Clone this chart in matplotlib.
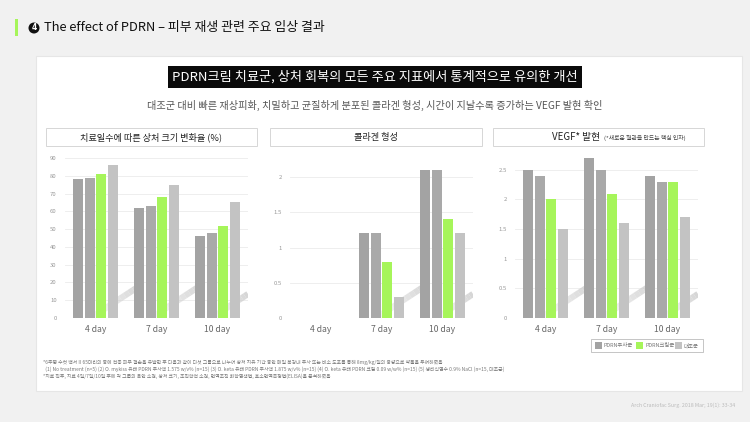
import matplotlib
matplotlib.use("Agg")
import matplotlib.pyplot as plt
from matplotlib.patches import Rectangle, Ellipse
import numpy as np

plt.rcParams['font.family'] = ['Noto Sans CJK KR', 'DejaVu Sans']

W, H = 750, 422

# ---------------- data ----------------
days = ["4 day", "7 day", "10 day"]
legend_names = ["PDRN주사군", "PDRN크림군", "대조군"]

wound_a = [78, 62, 46]
wound_b = [79, 63, 48]
wound_cream = [81, 68, 52]
wound_ctrl = [86, 75, 65]

coll_a = [0, 1.2, 2.1]
coll_b = [0, 1.2, 2.1]
coll_cream = [0, 0.8, 1.4]
coll_ctrl = [0, 0.3, 1.2]

vegf_a = [2.5, 2.7, 2.4]
vegf_b = [2.4, 2.5, 2.3]
vegf_cream = [2.0, 2.1, 2.3]
vegf_ctrl = [1.5, 1.6, 1.7]

wound_ticks = [0, 10, 20, 30, 40, 50, 60, 70, 80, 90]
coll_ticks = [0, 0.5, 1, 1.5, 2]
vegf_ticks = [0, 0.5, 1, 1.5, 2, 2.5]

panel_titles = ["치료일수에 따른 상처 크기 변화율 (%)", "콜라겐 형성", "VEGF* 발현"]

colors = ["#a3a3a3", "#a9a9a9", "#a6f55a", "#c3c3c3"]
legend_colors = ["#a3a3a3", "#a6f55a", "#c3c3c3"]

fig = plt.figure(figsize=(W / 100, H / 100), dpi=100)
fig.patch.set_facecolor("#f1f1f1")


def fx(x):
    return x / W


def fy(y):
    return 1 - y / H


# white card
fig.patches.append(Rectangle((fx(36), fy(391)), fx(742) - fx(36), fy(56) - fy(391),
                             transform=fig.transFigure, facecolor="white",
                             edgecolor="#e6e6e6", linewidth=0.8, zorder=0))

# header
fig.patches.append(Rectangle((fx(15), fy(36)), fx(3), fy(19) - fy(36),
                             transform=fig.transFigure, facecolor="#a6f55a",
                             edgecolor="none", zorder=1))
fig.patches.append(Ellipse((fx(34), fy(28)), 11 / W, 11 / H, transform=fig.transFigure,
                           facecolor="#111111", edgecolor="none", zorder=2))
fig.text(fx(34), fy(28), "4", color="white", fontsize=5.5, fontweight="bold",
         ha="center", va="center", zorder=3, family="DejaVu Sans")
fig.text(fx(44), fy(28), "The effect of PDRN – 피부 재생 관련 주요 임상 결과",
         fontsize=9.3, color="#111111", ha="left", va="center", fontweight="medium")

# headline box
fig.text(fx(375), fy(77), "PDRN크림 치료군, 상처 회복의 모든 주요 지표에서 통계적으로 유의한 개선",
         fontsize=9.5, color="white", ha="center", va="center", fontweight="medium",
         bbox=dict(boxstyle="square,pad=0.3", facecolor="#0a0a0a", edgecolor="none"))
fig.text(fx(375), fy(105), "대조군 대비 빠른 재상피화, 치밀하고 균질하게 분포된 콜라겐 형성, 시간이 지날수록 증가하는 VEGF 발현 확인",
         fontsize=7.3, color="#555555", ha="center", va="center")

# decorative shadow streaks per panel (axes-fraction coords)
streaks_full = [((0.14, 0.0), (0.42, 0.21)), ((0.47, 0.0), (0.75, 0.21)), ((0.80, 0.0), (1.0, 0.15))]
streaks_coll = [((0.47, 0.0), (0.75, 0.21)), ((0.80, 0.0), (1.0, 0.15))]

panels = [
    dict(vals=[wound_a, wound_b, wound_cream, wound_ctrl], ticks=wound_ticks,
         ylim=(0, 90), left=65, box=(46, 257), streaks=streaks_full),
    dict(vals=[coll_a, coll_b, coll_cream, coll_ctrl], ticks=coll_ticks,
         ylim=(0, 2.27), left=290, box=(270, 482), streaks=streaks_coll),
    dict(vals=[vegf_a, vegf_b, vegf_cream, vegf_ctrl], ticks=vegf_ticks,
         ylim=(0, 2.7), left=515, box=(493, 704), streaks=streaks_full),
]

ax_top, ax_bot, ax_w = 158, 318, 183
bar_w = 0.165
pitch = 0.19
offsets = (np.arange(4) - 1.5) * pitch
x = np.arange(len(days))

for i, p in enumerate(panels):
    bx0, bx1 = p["box"]
    fig.patches.append(Rectangle((fx(bx0), fy(146)), fx(bx1) - fx(bx0), fy(128) - fy(146),
                                 transform=fig.transFigure, facecolor="white",
                                 edgecolor="#d6d6d6", linewidth=0.7, zorder=1))
    if i == 2:
        fig.text(fx((bx0 + bx1) / 2 + 2), fy(137), "VEGF* 발현", fontsize=7.0,
                 color="#222222", ha="right", va="center")
        fig.text(fx((bx0 + bx1) / 2 + 5), fy(137.5), "(*새로운 혈관을 만드는 핵심 인자)",
                 fontsize=4.2, color="#444444", ha="left", va="center")
    else:
        fig.text(fx((bx0 + bx1) / 2), fy(137), panel_titles[i], fontsize=6.6,
                 color="#222222", ha="center", va="center")

    ax = fig.add_axes([fx(p["left"]), fy(ax_bot), ax_w / W, (ax_bot - ax_top) / H])
    ax.set_zorder(5)
    ax.set_facecolor("none")
    for (x0, y0), (x1, y1) in p["streaks"]:
        n = 12
        xs = np.linspace(x0, x1, n + 1)
        ys = np.linspace(y0, y1, n + 1)
        for s in range(n):
            ax.plot(xs[s:s + 2], ys[s:s + 2], transform=ax.transAxes, color="#cfcfcf",
                    lw=4.5, alpha=0.15 + 0.75 * s / n, solid_capstyle="butt", zorder=2)
    for j, vals in enumerate(p["vals"]):
        ax.bar(x + offsets[j], vals, width=bar_w, color=colors[j], zorder=3)
    ax.set_xlim(-0.5, 2.5)
    ax.set_ylim(*p["ylim"])
    ax.set_yticks(p["ticks"])
    ax.set_yticklabels(["{:g}".format(t) for t in p["ticks"]], fontsize=4.3, color="#999999")
    ax.set_xticks(x)
    ax.set_xticklabels(days, fontsize=6.2, color="#666666")
    ax.tick_params(axis="both", length=0, pad=6)
    ax.tick_params(axis="x", pad=5)
    ax.grid(axis="y", color="#ebebeb", linewidth=0.6, zorder=0)
    for s in ax.spines.values():
        s.set_visible(False)

# legend
lx0, lx1, ly0, ly1 = 591, 703, 339, 352
fig.patches.append(Rectangle((fx(lx0), fy(ly1)), fx(lx1) - fx(lx0), fy(ly0) - fy(ly1),
                             transform=fig.transFigure, facecolor="white",
                             edgecolor="#bbbbbb", linewidth=0.6, zorder=1))
item_x = [595, 636, 675]
for k, name in enumerate(legend_names):
    fig.patches.append(Rectangle((fx(item_x[k]), fy(349)), 7 / W, 7 / H,
                                 transform=fig.transFigure, facecolor=legend_colors[k],
                                 edgecolor="none", zorder=2))
    fig.text(fx(item_x[k] + 9), fy(345.5), name, fontsize=3.9, color="#777777",
             ha="left", va="center")

# footnotes
notes = [
    "*6주령 수컷 백서 II 65마리의 등에 전층 피부 결손을 유발한 후 다음과 같이 다섯 그룹으로 나누어 상처 치유 기간 동안 매일 복강내 주사 또는 비소 도포를 통해 8mg/kg/일의 용량으로 약물을 투여하였음",
    "  (1) No treatment (n=5) (2) O. mykiss 유래 PDRN 주사액 1.575 w/v% (n=15) (3) O. keta 유래 PDRN 주사액 1.875 w/v% (n=15) (4) O. keta 유래 PDRN 크림 0.09 w/w% (n=15) (5) 생리식염수 0.9% NaCl (n=15, 대조군)",
    "*치료 직후, 치료 4일/7일/10일 후에 각 그룹의 육안 소견, 상처 크기, 조직학적 소견, 면역조직 화학염색법, 효소면역측정법(ELISA)을 분석하였음",
]
for k, n in enumerate(notes):
    fig.text(fx(43), fy(362 + 7 * k), n, fontsize=3.5, color="#777777", ha="left", va="center")

fig.text(fx(735), fy(405), "Arch Craniofac Surg. 2018 Mar; 19(1): 33-34",
         fontsize=3.8, color="#bbbbbb", ha="right", va="center")

fig.savefig("out.png", dpi=100, facecolor=fig.get_facecolor())
